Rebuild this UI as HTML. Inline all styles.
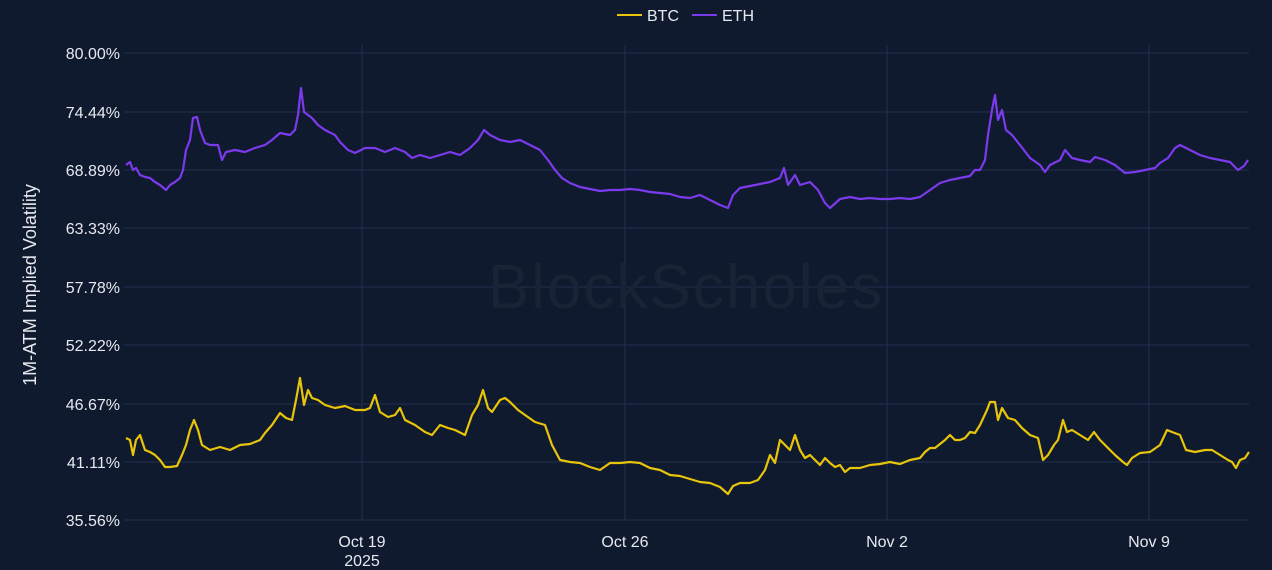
<!DOCTYPE html>
<html><head><meta charset="utf-8"><style>
html,body{margin:0;padding:0;background:#101a2e;}
svg{display:block;font-family:"Liberation Sans",sans-serif;}
</style></head><body>
<svg width="1272" height="570" viewBox="0 0 1272 570">
<rect width="1272" height="570" fill="#101a2e"/>
<g stroke="#22304d" stroke-width="1">
<line x1="124" x2="1249" y1="53" y2="53"/><line x1="124" x2="1249" y1="112" y2="112"/>
<line x1="124" x2="1249" y1="170" y2="170"/><line x1="124" x2="1249" y1="228" y2="228"/>
<line x1="124" x2="1249" y1="287" y2="287"/><line x1="124" x2="1249" y1="345" y2="345"/>
<line x1="124" x2="1249" y1="404" y2="404"/><line x1="124" x2="1249" y1="462" y2="462"/>
<line x1="124" x2="1249" y1="520" y2="520"/>
<line x1="362" x2="362" y1="45" y2="520"/><line x1="625" x2="625" y1="45" y2="520"/>
<line x1="887" x2="887" y1="45" y2="520"/><line x1="1149" x2="1149" y1="45" y2="520"/>
</g>
<text x="686" y="308" font-size="62" fill="#1a2236" text-anchor="middle" letter-spacing="2">BlockScholes</text>
<g fill="#e6e9ef" font-size="16" text-anchor="end">
<text x="120" y="59">80.00%</text><text x="120" y="118">74.44%</text><text x="120" y="176">68.89%</text>
<text x="120" y="234">63.33%</text><text x="120" y="293">57.78%</text><text x="120" y="351">52.22%</text>
<text x="120" y="410">46.67%</text><text x="120" y="468">41.11%</text><text x="120" y="526">35.56%</text>
</g>
<g fill="#e6e9ef" font-size="16" text-anchor="middle">
<text x="362" y="547">Oct 19</text><text x="362" y="566">2025</text>
<text x="625" y="547">Oct 26</text><text x="887" y="547">Nov 2</text><text x="1149" y="547">Nov 9</text>
</g>
<text transform="translate(36,285) rotate(-90)" fill="#e6e9ef" font-size="18" text-anchor="middle">1M-ATM Implied Volatility</text>
<line x1="617" x2="642" y1="15" y2="15" stroke="#e8c40a" stroke-width="2"/>
<text x="647" y="21" fill="#e6e9ef" font-size="16">BTC</text>
<line x1="692" x2="717" y1="15" y2="15" stroke="#7c3aed" stroke-width="2"/>
<text x="722" y="21" fill="#e6e9ef" font-size="16">ETH</text>
<polyline fill="none" stroke="#7c3aed" stroke-width="2.2" stroke-linejoin="round" points="126,165 130,162 133,170 136,168 140,175 145,177 150,178 155,182 160,185 166,190 170,185 175,182 180,178 183,170 186,150 190,140 193,118 197,117 200,130 205,143 210,145 218,145 222,160 226,152 235,150 245,152 255,148 265,145 272,140 280,133 290,135 295,130 298,115 301,88 304,112 308,115 312,118 318,125 325,130 335,135 340,142 348,150 355,153 365,148 375,148 385,152 395,148 405,152 412,158 420,155 430,158 440,155 450,152 460,155 470,148 478,140 484,130 490,135 500,140 510,142 520,140 530,145 540,150 548,160 555,170 562,178 570,183 580,187 590,189 600,191 610,190 620,190 630,189 640,190 650,192 660,193 670,194 680,197 690,198 700,195 710,200 720,205 728,208 733,195 740,188 750,186 760,184 770,182 780,178 784,168 788,185 795,175 800,185 810,182 818,190 825,203 830,208 840,199 850,197 860,199 870,198 880,199 890,199 900,198 910,199 920,197 930,190 940,183 950,180 960,178 970,176 975,170 980,170 985,160 988,135 992,110 995,95 998,120 1002,110 1006,130 1012,135 1020,145 1030,158 1040,165 1045,172 1050,165 1060,160 1065,150 1072,158 1080,160 1090,162 1095,157 1105,160 1115,165 1125,173 1135,172 1145,170 1155,168 1160,163 1168,158 1175,148 1180,145 1190,150 1200,155 1210,158 1220,160 1230,162 1238,170 1244,166 1248,160"/>
<polyline fill="none" stroke="#e8c40a" stroke-width="2.2" stroke-linejoin="round" points="126,438 130,440 133,455 136,440 140,435 145,450 150,452 155,455 160,460 165,467 170,467 177,466 182,455 186,445 190,430 194,420 198,430 202,445 210,450 220,447 230,450 240,445 250,444 260,440 265,433 272,425 280,413 286,418 292,420 296,400 300,378 304,405 308,390 312,398 318,400 325,405 335,408 345,406 355,410 365,410 370,408 375,395 380,412 388,417 395,415 400,408 405,420 415,425 425,432 432,435 440,425 448,428 455,430 465,435 472,415 478,405 483,390 488,408 492,412 500,400 505,398 510,402 518,410 525,415 535,422 545,425 552,445 560,460 570,462 580,463 590,467 600,470 610,463 620,463 630,462 640,463 650,468 660,470 670,475 680,476 690,479 700,482 710,483 720,487 728,494 733,486 740,483 750,483 758,480 765,470 770,455 775,463 780,440 785,445 790,450 795,435 800,450 805,458 810,455 815,460 820,465 825,458 830,463 835,467 840,465 845,472 850,468 860,468 870,465 880,464 890,462 900,464 910,460 920,458 925,452 930,448 935,448 945,440 950,435 955,440 960,440 965,438 970,432 975,433 980,425 987,410 990,402 995,402 998,420 1002,408 1008,418 1015,420 1022,428 1030,435 1038,438 1043,460 1048,455 1054,445 1058,440 1063,420 1067,432 1072,430 1080,435 1088,440 1094,432 1100,440 1108,448 1115,455 1123,462 1127,465 1132,458 1140,453 1150,452 1160,445 1167,430 1172,432 1180,435 1186,450 1195,452 1205,450 1212,450 1220,455 1228,460 1232,462 1236,468 1240,460 1245,458 1249,452"/>
</svg>
</body></html>
